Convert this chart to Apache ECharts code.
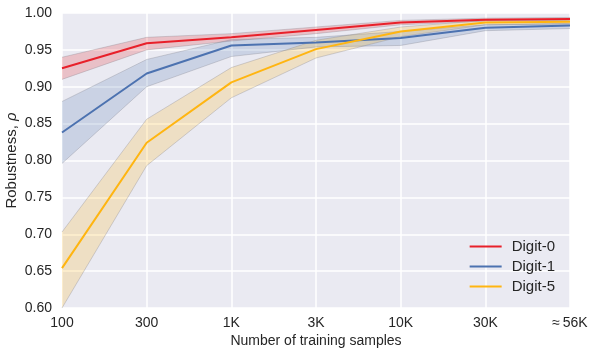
<!DOCTYPE html>
<html>
<head>
<meta charset="utf-8">
<script src="https://cdn.jsdelivr.net/npm/echarts@6/dist/echarts.min.js"></script>
<style>
  html, body { margin: 0; padding: 0; background: #fff; }
  #chart { width: 598px; height: 354px; }
</style>
</head>
<body>
<div id="chart"></div>
<script>
  // 横轴：训练样本数
  const categories = ['100', '300', '1K', '3K', '10K', '30K', '\u2248\u200956K']
  const yTicks = { min: 0.6, max: 1.0, step: 0.05 }

  // 均值与置信带（上下界）
  const digit0 = [0.925, 0.959, 0.967, 0.977, 0.987, 0.991, 0.992]
  const digit0Lo = [0.910, 0.950, 0.962, 0.972, 0.984, 0.989, 0.990]
  const digit0Hi = [0.940, 0.967, 0.972, 0.981, 0.990, 0.993, 0.994]

  const digit1 = [0.838, 0.918, 0.956, 0.960, 0.966, 0.980, 0.983]
  const digit1Lo = [0.796, 0.900, 0.941, 0.954, 0.956, 0.976, 0.979]
  const digit1Hi = [0.880, 0.937, 0.964, 0.967, 0.975, 0.984, 0.986]

  const digit5 = [0.654, 0.824, 0.906, 0.951, 0.975, 0.987, 0.988]
  const digit5Lo = [0.600, 0.793, 0.885, 0.939, 0.968, 0.984, 0.985]
  const digit5Hi = [0.703, 0.856, 0.926, 0.963, 0.981, 0.990, 0.991]

  const seriesDefs = [
    { name: 'Digit-0', mean: digit0, lo: digit0Lo, hi: digit0Hi, color: '#E8202A', band: 'rgba(228,26,28,0.2)' },
    { name: 'Digit-1', mean: digit1, lo: digit1Lo, hi: digit1Hi, color: '#4C72B0', band: 'rgba(76,114,176,0.2)' },
    { name: 'Digit-5', mean: digit5, lo: digit5Lo, hi: digit5Hi, color: '#FFB511', band: 'rgba(255,181,17,0.2)' }
  ]

  const font = '"Liberation Sans", Arial, sans-serif'
  const myChart = echarts.init(document.getElementById('chart'), null, { renderer: 'canvas' })

  let series = []
  seriesDefs.forEach((s, i) => {
    // 下界（不填充）
    series.push({
      type: 'line',
      stack: 'band' + i,
      data: s.lo,
      symbol: 'none',
      silent: true,
      z: 1,
      lineStyle: { width: 0.8, color: 'rgba(130,130,140,0.4)' }
    })
    // 上下界之差，填充成置信带
    series.push({
      type: 'line',
      stack: 'band' + i,
      data: s.hi.map((v, k) => v - s.lo[k]),
      symbol: 'none',
      silent: true,
      z: 1,
      lineStyle: { width: 0.8, color: 'rgba(130,130,140,0.4)' },
      areaStyle: { color: s.band, opacity: 1 }
    })
  })
  seriesDefs.forEach(s => {
    series.push({
      name: s.name,
      type: 'line',
      data: s.mean,
      symbol: 'none',
      z: 5,
      color: s.color,
      lineStyle: { width: 2, color: s.color }
    })
  })

  let option = {
    animation: false,
    backgroundColor: '#ffffff',
    grid: {
      left: 62,
      right: 28,
      top: 13,
      bottom: 46,
      containLabel: false,
      outerBoundsMode: 'none',
      show: true,
      backgroundColor: '#EAEAF2',
      borderWidth: 0
    },
    legend: {
      data: seriesDefs.map(s => s.name),
      orient: 'vertical',
      right: 38,
      top: 234,
      itemWidth: 32,
      itemHeight: 2,
      itemGap: 5,
      icon: 'rect',
      textStyle: { fontFamily: font, fontSize: 15, color: '#262626', padding: [0, 0, 0, 5] }
    },
    xAxis: {
      type: 'category',
      boundaryGap: false,
      data: categories,
      name: 'Number of training samples',
      nameLocation: 'middle',
      nameGap: 26,
      nameMoveOverlap: false,
      nameTextStyle: { fontFamily: font, fontSize: 14, color: '#262626' },
      axisLine: { show: false },
      axisTick: { show: false },
      axisLabel: { fontFamily: font, fontSize: 14, color: '#262626', margin: 8 },
      splitLine: { show: true, lineStyle: { color: '#ffffff', width: 1.5 } }
    },
    yAxis: {
      type: 'value',
      min: yTicks.min,
      max: yTicks.max,
      interval: yTicks.step,
      name: '{a|Robustness, }{b|\u03C1}',
      nameLocation: 'middle',
      nameGap: 43,
      nameMoveOverlap: false,
      nameTextStyle: {
        rich: {
          a: { fontFamily: font, fontSize: 15, color: '#262626' },
          b: { fontFamily: font, fontSize: 15, color: '#262626', fontStyle: 'italic' }
        }
      },
      axisLine: { show: false },
      axisTick: { show: false },
      axisLabel: {
        fontFamily: font,
        fontSize: 14,
        color: '#262626',
        margin: 10,
        formatter: v => v.toFixed(2)
      },
      splitLine: { show: true, lineStyle: { color: '#ffffff', width: 1.5 } }
    },
    series: series
  }

  myChart.setOption(option, true)
</script>
</body>
</html>
